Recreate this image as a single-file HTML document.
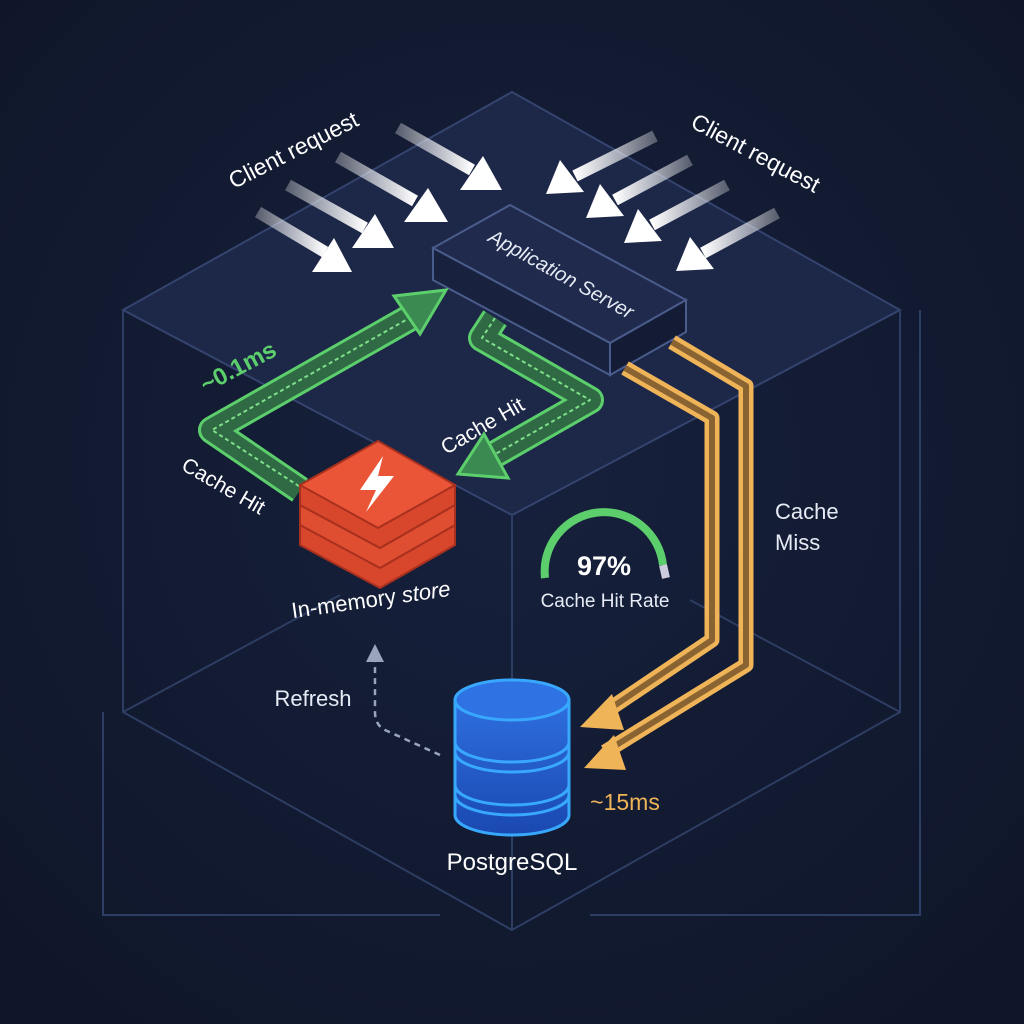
<!DOCTYPE html>
<html><head><meta charset="utf-8"><style>
html,body{margin:0;padding:0;background:#121a31;}
svg{display:block}
text{font-family:"Liberation Sans","DejaVu Sans",sans-serif;}
</style></head><body>
<svg width="1024" height="1024" viewBox="0 0 1024 1024" xmlns="http://www.w3.org/2000/svg">
<defs>
<radialGradient id="bg" cx="50%" cy="45%" r="70%"><stop offset="0" stop-color="#17213d"/><stop offset="1" stop-color="#0f1629"/></radialGradient>
<linearGradient id="wa" x1="0" y1="0" x2="1" y2="0"><stop offset="0" stop-color="#fff" stop-opacity="0.3"/><stop offset="1" stop-color="#fff"/></linearGradient>
<linearGradient id="wb" x1="1" y1="0" x2="0" y2="0"><stop offset="0" stop-color="#fff" stop-opacity="0.3"/><stop offset="1" stop-color="#fff"/></linearGradient>
<linearGradient id="db" x1="0" y1="0" x2="0" y2="1"><stop offset="0" stop-color="#2e6fe0"/><stop offset="1" stop-color="#1a48b0"/></linearGradient>
</defs>
<rect width="1024" height="1024" fill="url(#bg)"/>
<polygon points="512,92 900,310 512,515 123,310" fill="#1d2848" stroke="#34446e" stroke-width="2"/>
<g stroke="#2e3d63" stroke-width="2" fill="none">
<polyline points="123,310 123,712 512,930 900,712 900,310"/>
<line x1="512" y1="515" x2="512" y2="930"/>
<line x1="123" y1="712" x2="340" y2="595"/>
<line x1="900" y1="712" x2="690" y2="600"/>
<polyline points="103,712 103,915 440,915"/>
<polyline points="590,915 920,915 920,310"/>
</g>
<g stroke="url(#wa)" stroke-width="12">
<line x1="258" y1="212" x2="325" y2="252"/>
<line x1="288" y1="185" x2="365" y2="228"/>
<line x1="338" y1="157" x2="415" y2="201"/>
<line x1="398" y1="128" x2="472" y2="170"/>
</g>
<g fill="#fff">
<polygon points="352,272 312,272 334,238"/>
<polygon points="394,248 352,248 375,214"/>
<polygon points="448,222 404,222 428,188"/>
<polygon points="502,190 460,190 483,156"/>
</g>
<g stroke="url(#wb)" stroke-width="12">
<line x1="655" y1="136" x2="575" y2="176"/>
<line x1="690" y1="160" x2="615" y2="200"/>
<line x1="727" y1="185" x2="652" y2="225"/>
<line x1="777" y1="213" x2="703" y2="253"/>
</g>
<g fill="#fff">
<polygon points="546,194 560,160 584,192"/>
<polygon points="586,218 600,184 624,216"/>
<polygon points="624,243 638,209 662,241"/>
<polygon points="676,271 690,237 714,269"/>
</g>
<text x="297" y="157" fill="#fff" font-size="23" text-anchor="middle" transform="rotate(-27 297 157)">Client request</text>
<text x="752" y="160" fill="#fff" font-size="23" text-anchor="middle" transform="rotate(28 752 160)">Client request</text>
<polygon points="433,248 510,205 686,300 610,343" fill="#1f2a4c" stroke="#4a5c8c" stroke-width="2"/>
<polygon points="433,248 610,343 610,375 433,280" fill="#18223f" stroke="#4a5c8c" stroke-width="2"/>
<polygon points="610,343 686,300 686,332 610,375" fill="#141c35" stroke="#4a5c8c" stroke-width="2"/>
<text x="558" y="280" fill="#e6ebf5" font-size="20" font-style="italic" text-anchor="middle" transform="rotate(29 558 280)">Application Server</text>
<g fill="none" stroke-linejoin="round">
<polyline points="300,490 212,430 420,312" stroke="#5ccf6c" stroke-width="28"/>
<polyline points="300,490 212,430 420,312" stroke="#2f6a45" stroke-width="22"/>
<polyline points="305,490 212,430 420,312" stroke="#7fe08a" stroke-width="2" stroke-dasharray="4 3"/>
<polyline points="495,318 482,338 590,400 492,456" stroke="#5ccf6c" stroke-width="28"/>
<polyline points="495,318 482,338 590,400 492,456" stroke="#2f6a45" stroke-width="22"/>
<polyline points="495,318 482,338 590,400 492,456" stroke="#7fe08a" stroke-width="2" stroke-dasharray="4 3"/>
</g>
<polygon points="446,290 394,296 420,334" fill="#3a8a52" stroke="#5ccf6c" stroke-width="3"/>
<polygon points="458,474 508,478 484,434" fill="#3a8a52" stroke="#5ccf6c" stroke-width="3"/>
<text x="242" y="374" fill="#5ccf6c" font-size="24" font-weight="bold" text-anchor="middle" transform="rotate(-28 242 374)">~0.1ms</text>
<text x="220" y="492" fill="#fff" font-size="21" text-anchor="middle" transform="rotate(30 220 492)">Cache Hit</text>
<text x="486" y="432" fill="#fff" font-size="21" text-anchor="middle" transform="rotate(-30 486 432)">Cache Hit</text>
<g stroke="#a8301e" stroke-width="2">
<path d="M300,525 L300,545 L380,588 L455,545 L455,525 Z" fill="#d8462c"/>
<path d="M300,505 L380,548 L455,505 L455,525 L380,568 L300,525 Z" fill="#e04e32"/>
<path d="M300,485 L300,505 L380,548 L455,505 L455,485 Z" fill="#d8462c"/>
<polygon points="300,485 378,441 455,485 378,528" fill="#ea5537"/>
</g>
<polygon points="383,456 360,490 376,490 366,512 394,476 378,476" fill="#fff"/>
<text x="372" y="607" fill="#fff" font-size="22" text-anchor="middle" transform="rotate(-8 372 607)">In-memory <tspan font-style="italic">store</tspan></text>
<g fill="none" stroke-linejoin="round">
<polyline points="625,368 712,418 712,640 605,712" stroke="#f0b458" stroke-width="15"/>
<polyline points="625,368 712,418 712,640 605,712" stroke="#8a6333" stroke-width="6"/>
<polyline points="672,342 746,386 746,665 605,752" stroke="#f0b458" stroke-width="15"/>
<polyline points="672,342 746,386 746,665 605,752" stroke="#8a6333" stroke-width="6"/>
</g>
<polygon points="580,727 612,694 624,730" fill="#f0b458"/>
<polygon points="584,768 614,735 626,770" fill="#f0b458"/>
<text x="775" y="519" fill="#e6ebf5" font-size="22">Cache</text>
<text x="775" y="550" fill="#e6ebf5" font-size="22">Miss</text>
<path d="M545,578 A45,45 0 0 1 663,565" fill="none" stroke="#5ccf6c" stroke-width="8"/>
<path d="M663,565 L666,578" fill="none" stroke="#ccd" stroke-width="8"/>
<text x="604" y="575" fill="#fff" font-size="27" font-weight="bold" text-anchor="middle">97%</text>
<text x="605" y="607" fill="#e6ebf5" font-size="19" text-anchor="middle">Cache Hit Rate</text>
<g stroke="#38a8ff" stroke-width="3">
<path d="M455,700 L455,815 A57,20 0 0 0 569,815 L569,700 Z" fill="url(#db)"/>
<path d="M455,742 A57,20 0 0 0 569,742" fill="none"/>
<path d="M455,752 A57,20 0 0 0 569,752" fill="none"/>
<path d="M455,785 A57,20 0 0 0 569,785" fill="none"/>
<path d="M455,795 A57,20 0 0 0 569,795" fill="none"/>
<ellipse cx="512" cy="700" rx="57" ry="20" fill="#2f72e4"/>
</g>
<text x="625" y="810" fill="#f0b458" font-size="23" text-anchor="middle">~15ms</text>
<text x="512" y="870" fill="#fff" font-size="24" text-anchor="middle">PostgreSQL</text>
<text x="313" y="706" fill="#e6ebf5" font-size="22" text-anchor="middle">Refresh</text>
<path d="M440,755 L385,730 Q375,725 375,712 L375,660" fill="none" stroke="#9aa4bb" stroke-width="2.5" stroke-dasharray="6 5"/>
<polygon points="375,644 366,662 384,662" fill="#9aa4bb"/>
</svg>
</body></html>
